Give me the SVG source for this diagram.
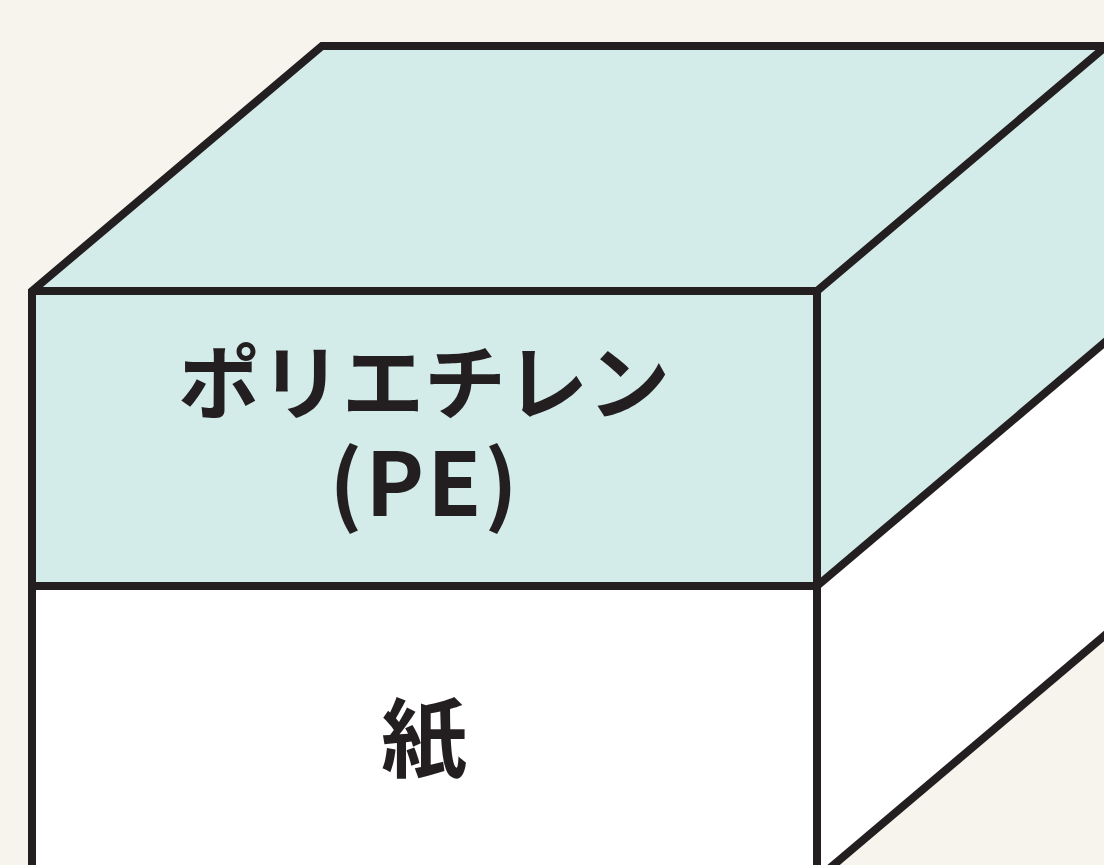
<svg xmlns="http://www.w3.org/2000/svg" width="1104" height="865" viewBox="0 0 1104 865">
<style>
.edge{stroke:#231f20;stroke-width:8;stroke-linejoin:miter;fill:none}
.pe{fill:#d4ece9}
.paper{fill:#ffffff}
.lbl{font-family:"Noto Sans CJK JP","Noto Sans",sans-serif;font-weight:700;fill:#231f20;text-anchor:middle}
</style>
<rect width="1104" height="865" fill="#f7f4ee"/>
<g id="pe-layer">
<polygon class="pe" points="32,291 322,46 1105,46 817,291"/>
<polygon class="pe" points="817,291 1105,46 1105,341 817,586"/>
<rect class="pe" x="32" y="291" width="785" height="295"/>
<text class="lbl"><tspan x="424" y="413" font-size="82">ポリエチレン</tspan><tspan x="425" y="516" font-size="88" letter-spacing="3">(PE)</tspan></text>
</g>
<g id="paper-layer">
<polygon class="paper" points="817,586 1105,341 1105,634 817,879"/>
<rect class="paper" x="32" y="586" width="785" height="300"/>
<text class="lbl" x="424" y="771" font-size="86">紙</text>
</g>
<g id="edges">
<polyline class="edge" points="32,900 32,291 322,46 1110,46"/>
<polyline class="edge" points="32,291 817,291 1110,43"/>
<line class="edge" x1="32" y1="586" x2="817" y2="586"/>
<line class="edge" x1="817" y1="291" x2="817" y2="900"/>
<line class="edge" x1="817" y1="586" x2="1110" y2="338"/>
<line class="edge" x1="817" y1="879" x2="1110" y2="631"/>
</g>
</svg>
